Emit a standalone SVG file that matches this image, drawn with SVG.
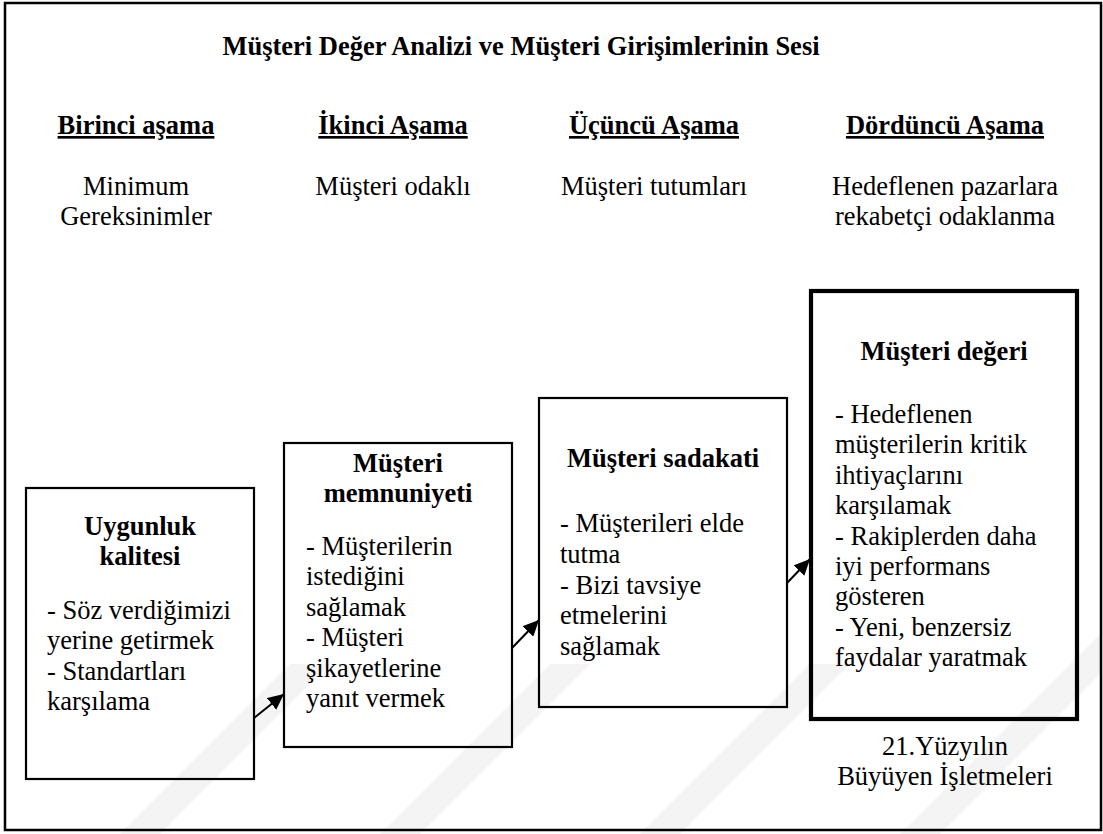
<svg xmlns="http://www.w3.org/2000/svg" width="1103" height="834" viewBox="0 0 1103 834">
  <style>
    text { font-family: "Liberation Serif", "DejaVu Serif", "Noto Serif", "Times New Roman", Times, serif; font-size: 26.5px; fill: #000; }
    .b { font-weight: bold; }
    .c { text-anchor: middle; }
    .u { text-decoration: underline; }
    .box { fill: none; stroke: #000; stroke-width: 2.2; }
    .box-strong { fill: none; stroke: #000; stroke-width: 4.2; }
    .wm { fill: #f4f4f4; }
    .link { stroke: #000; stroke-width: 2; fill: none; }
  </style>
  <defs>
    <marker id="head" markerUnits="userSpaceOnUse" markerWidth="17" markerHeight="15" refX="16" refY="7.5" orient="auto">
      <path d="M0,0 L16,7.5 L0,15 Z" fill="#000"/>
    </marker>
  </defs>

  <rect width="1103" height="834" fill="#fff"/>

  <!-- faint background stripes -->
  <g id="backdrop">
    <polygon class="wm" points="120,834 160,834 330,664 290,664"/>
    <polygon class="wm" points="380,834 420,834 590,664 550,664"/>
    <polygon class="wm" points="640,834 680,834 850,664 810,664"/>
    <polygon class="wm" points="900,834 940,834 1100,674 1100,634"/>
  </g>

  <!-- outer frame -->
  <rect x="5" y="3" width="1096" height="827" fill="none" stroke="#000" stroke-width="2.5"/>

  <!-- heading and stage columns -->
  <g id="header">
    <text class="b c" x="521" y="55">Müşteri Değer Analizi ve Müşteri Girişimlerinin Sesi</text>
  </g>
  <g id="stage1">
    <text class="b c u" x="136" y="134">Birinci aşama</text>
    <text class="c" x="136" y="195">Minimum</text>
    <text class="c" x="136" y="225">Gereksinimler</text>
  </g>
  <g id="stage2">
    <text class="b c u" x="393" y="134">İkinci Aşama</text>
    <text class="c" x="393" y="195">Müşteri odaklı</text>
  </g>
  <g id="stage3">
    <text class="b c u" x="654" y="134">Üçüncü Aşama</text>
    <text class="c" x="654" y="195">Müşteri tutumları</text>
  </g>
  <g id="stage4">
    <text class="b c u" x="945" y="134">Dördüncü Aşama</text>
    <text class="c" x="945" y="195">Hedeflenen pazarlara</text>
    <text class="c" x="945" y="225">rekabetçi odaklanma</text>
  </g>

  <!-- step boxes -->
  <g id="conformance">
    <rect class="box" x="26" y="488" width="228" height="291"/>
    <text class="b c" x="140" y="535">Uygunluk</text>
    <text class="b c" x="140" y="565">kalitesi</text>
    <text x="47" y="619">- Söz verdiğimizi</text>
    <text x="47" y="649">yerine getirmek</text>
    <text x="47" y="680">- Standartları</text>
    <text x="47" y="710">karşılama</text>
  </g>

  <g id="satisfaction">
    <rect class="box" x="284" y="443" width="228" height="304"/>
    <text class="b c" x="398" y="472">Müşteri</text>
    <text class="b c" x="398" y="502">memnuniyeti</text>
    <text x="306" y="555">- Müşterilerin</text>
    <text x="306" y="585">istediğini</text>
    <text x="306" y="616">sağlamak</text>
    <text x="306" y="646">- Müşteri</text>
    <text x="306" y="677">şikayetlerine</text>
    <text x="306" y="707">yanıt vermek</text>
  </g>

  <g id="loyalty">
    <rect class="box" x="539" y="398" width="248" height="309"/>
    <text class="b c" x="663" y="467">Müşteri sadakati</text>
    <text x="560" y="532">- Müşterileri elde</text>
    <text x="560" y="563">tutma</text>
    <text x="560" y="594">- Bizi tavsiye</text>
    <text x="560" y="624">etmelerini</text>
    <text x="560" y="655">sağlamak</text>
  </g>

  <g id="value">
    <rect class="box-strong" x="811" y="291" width="266" height="428"/>
    <text class="b c" x="944" y="360">Müşteri değeri</text>
    <text x="835" y="423">- Hedeflenen</text>
    <text x="835" y="453">müşterilerin kritik</text>
    <text x="835" y="484">ihtiyaçlarını</text>
    <text x="835" y="514">karşılamak</text>
    <text x="835" y="545">- Rakiplerden daha</text>
    <text x="835" y="575">iyi performans</text>
    <text x="835" y="605">gösteren</text>
    <text x="835" y="636">- Yeni, benzersiz</text>
    <text x="835" y="666">faydalar yaratmak</text>
    <text class="c" x="945" y="755">21.Yüzyılın</text>
    <text class="c" x="945" y="785">Büyüyen İşletmeleri</text>
  </g>

  <!-- connectors -->
  <g id="connectors">
    <line class="link" x1="254" y1="718" x2="284" y2="694" marker-end="url(#head)"/>
    <line class="link" x1="512" y1="648" x2="539" y2="620" marker-end="url(#head)"/>
    <line class="link" x1="787" y1="583" x2="810" y2="559" marker-end="url(#head)"/>
  </g>
</svg>
